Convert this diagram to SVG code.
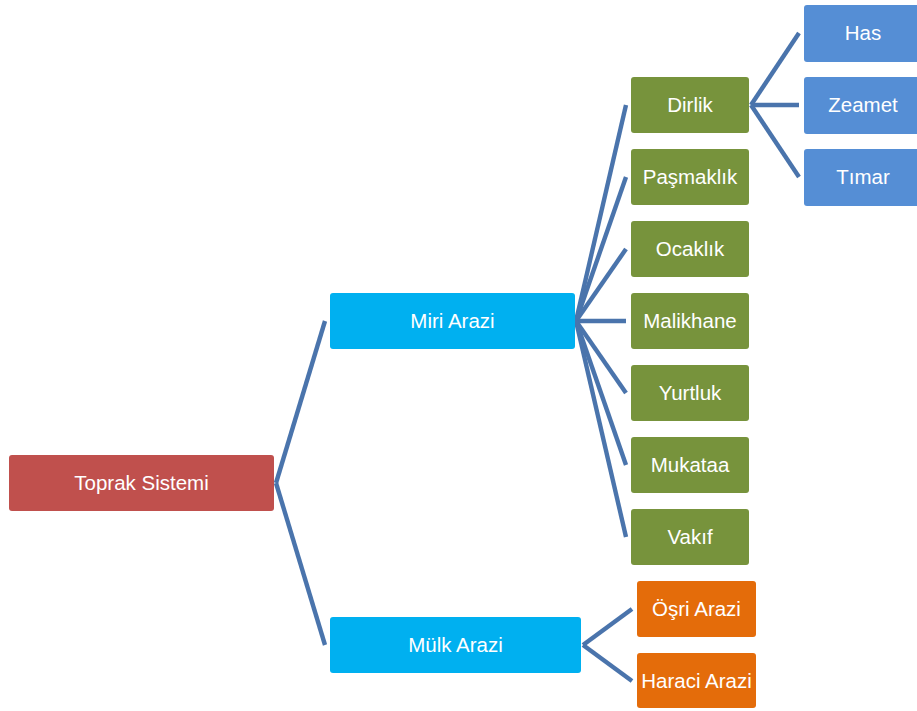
<svg xmlns="http://www.w3.org/2000/svg" width="917" height="711" viewBox="0 0 917 711">
<style>
.box{stroke:none}
.t{font-family:"Liberation Sans",Arial,sans-serif;font-size:20.5px;fill:#ffffff;text-anchor:middle}
.red{fill:#C0504D}
.cyan{fill:#00B0F0}
.green{fill:#77933C}
.blue{fill:#558ED5}
.orange{fill:#E46C0A}
.conn line{stroke:#4A74AC;stroke-width:4.4;stroke-linecap:butt}
</style>
<rect width="917" height="711" fill="#ffffff"/>
<g id="connectors" class="conn">
<line x1="276" y1="483" x2="325" y2="321"/>
<line x1="276" y1="483" x2="325" y2="645"/>
<line x1="576" y1="321" x2="626" y2="105"/>
<line x1="576" y1="321" x2="626" y2="177"/>
<line x1="576" y1="321" x2="626" y2="249"/>
<line x1="576" y1="321" x2="626" y2="321"/>
<line x1="576" y1="321" x2="626" y2="393"/>
<line x1="576" y1="321" x2="626" y2="465"/>
<line x1="576" y1="321" x2="626" y2="537"/>
<line x1="751" y1="105" x2="799" y2="33"/>
<line x1="751" y1="105" x2="799" y2="105"/>
<line x1="751" y1="105" x2="799" y2="177"/>
<line x1="583" y1="645" x2="632" y2="609"/>
<line x1="583" y1="645" x2="632" y2="681"/>
</g>
<g id="toprak"><rect class="box red" x="9" y="455" width="265" height="56" rx="3"/><text class="t" x="141.5" y="490">Toprak Sistemi</text></g>
<g id="miri"><rect class="box cyan" x="330" y="293" width="245" height="56" rx="3"/><text class="t" x="452.5" y="328">Miri Arazi</text></g>
<g id="mulk"><rect class="box cyan" x="330" y="617" width="251" height="56" rx="3"/><text class="t" x="455.5" y="652">Mülk Arazi</text></g>
<g id="dirlik"><rect class="box green" x="631" y="77" width="118" height="56" rx="3"/><text class="t" x="690" y="112">Dirlik</text></g>
<g id="pasmaklik"><rect class="box green" x="631" y="149" width="118" height="56" rx="3"/><text class="t" x="690" y="184">Paşmaklık</text></g>
<g id="ocaklik"><rect class="box green" x="631" y="221" width="118" height="56" rx="3"/><text class="t" x="690" y="256">Ocaklık</text></g>
<g id="malikhane"><rect class="box green" x="631" y="293" width="118" height="56" rx="3"/><text class="t" x="690" y="328">Malikhane</text></g>
<g id="yurtluk"><rect class="box green" x="631" y="365" width="118" height="56" rx="3"/><text class="t" x="690" y="400">Yurtluk</text></g>
<g id="mukataa"><rect class="box green" x="631" y="437" width="118" height="56" rx="3"/><text class="t" x="690" y="472">Mukataa</text></g>
<g id="vakif"><rect class="box green" x="631" y="509" width="118" height="56" rx="3"/><text class="t" x="690" y="544">Vakıf</text></g>
<g id="has"><rect class="box blue" x="804" y="5" width="120" height="57" rx="3"/><text class="t" x="863" y="40">Has</text></g>
<g id="zeamet"><rect class="box blue" x="804" y="77" width="120" height="57" rx="3"/><text class="t" x="863" y="112">Zeamet</text></g>
<g id="timar"><rect class="box blue" x="804" y="149" width="120" height="57" rx="3"/><text class="t" x="863" y="184">Tımar</text></g>
<g id="osri"><rect class="box orange" x="637" y="581" width="119" height="56" rx="3"/><text class="t" x="696.5" y="616">Öşri Arazi</text></g>
<g id="haraci"><rect class="box orange" x="637" y="653" width="119" height="55" rx="3"/><text class="t" x="696.5" y="688">Haraci Arazi</text></g>
</svg>
